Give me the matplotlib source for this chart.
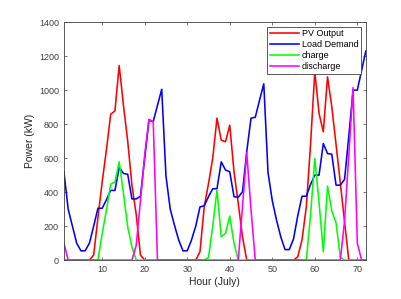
import matplotlib.pyplot as plt
import numpy as np

plt.rcParams['font.family'] = ['Liberation Sans', 'DejaVu Sans']

hours = np.arange(1, 73)

pv_output = [0, 0, 0, 0, 0, 0, 0, 30, 250, 460, 650, 858, 878, 1145, 910, 700, 440, 270, 30, 0,
             0, 0, 0, 0, 0, 0, 0, 0, 0, 0, 0, 0, 50, 315, 450, 600, 835, 706, 696, 794,
             520, 333, 137, 0, 0, 0, 0, 0, 0, 0, 0, 0, 0, 0, 0, 20, 120, 313, 680, 1110,
             863, 755, 1078, 902, 680, 455, 225, 0, 0, 0, 0, 0]

load_demand = [520, 300, 200, 100, 55, 55, 100, 200, 305, 305, 355, 410, 410, 545, 510, 505, 360, 360, 376, 600,
               823, 815, 910, 1005, 495, 300, 205, 118, 55, 55, 118, 200, 313, 320, 373, 420, 420, 578, 530, 520,
               373, 370, 402, 640, 835, 840, 940, 1037, 515, 350, 235, 137, 62, 62, 125, 262, 376, 376, 445, 500,
               500, 686, 627, 623, 441, 441, 475, 730, 1000, 1000, 1115, 1230]

charge = [0, 0, 0, 0, 0, 0, 0, 0, 0, 157, 294, 447, 460, 578, 393, 196, 78, 0, 0, 0,
          0, 0, 0, 0, 0, 0, 0, 0, 0, 0, 0, 0, 0, 0, 15, 200, 412, 137, 157, 259,
          100, 0, 0, 0, 0, 0, 0, 0, 0, 0, 0, 0, 0, 0, 0, 0, 0, 0, 264, 598,
          340, 49, 435, 290, 220, 15, 0, 0, 0, 0, 0, 0]

discharge = [100, 0, 0, 0, 0, 0, 0, 0, 0, 0, 0, 0, 0, 0, 0, 0, 0, 86, 350, 620,
             828, 815, 0, 0, 0, 0, 0, 0, 0, 0, 0, 0, 0, 0, 0, 0, 0, 0, 0, 0,
             0, 0, 315, 632, 296, 0, 0, 0, 0, 0, 0, 0, 0, 0, 0, 0, 0, 0, 0, 0,
             0, 0, 0, 0, 0, 0, 230, 620, 1015, 100, 0, 0]

fig = plt.figure(figsize=(4.02, 2.99), dpi=100)
ax = fig.add_axes([0.159, 0.130, 0.751, 0.796])

ax.plot(hours, pv_output, color='#ff0000', lw=1.15, label='PV Output')
ax.plot(hours, load_demand, color='#0000ff', lw=1.15, label='Load Demand')
ax.plot(hours, charge, color='#00ff00', lw=1.15, label='charge')
ax.plot(hours, discharge, color='#ff00ff', lw=1.15, label='discharge')

ax.set_xlim(1, 72)
ax.set_ylim(0, 1400)
ax.set_xticks(range(10, 71, 10))
ax.set_yticks(range(0, 1401, 200))
ax.tick_params(direction='in', top=True, right=True, labelsize=6.5, length=2.5,
               width=0.5, colors='#404040')
for s in ax.spines.values():
    s.set_linewidth(0.6)
    s.set_color('#404040')

ax.set_xlabel('Hour (July)', fontsize=7.5, color='#262626', labelpad=2)
ax.set_ylabel('Power (kW)', fontsize=7.5, color='#262626', labelpad=3)

leg = ax.legend(loc='upper right', fontsize=6.5, frameon=True, fancybox=False,
                borderpad=0.3, labelspacing=0.22, handlelength=3.2, handletextpad=0.35,
                borderaxespad=0.5, framealpha=1)
leg.get_frame().set_edgecolor('#404040')
leg.get_frame().set_linewidth(0.6)

plt.savefig('out.png', dpi=100)
plt.close()
